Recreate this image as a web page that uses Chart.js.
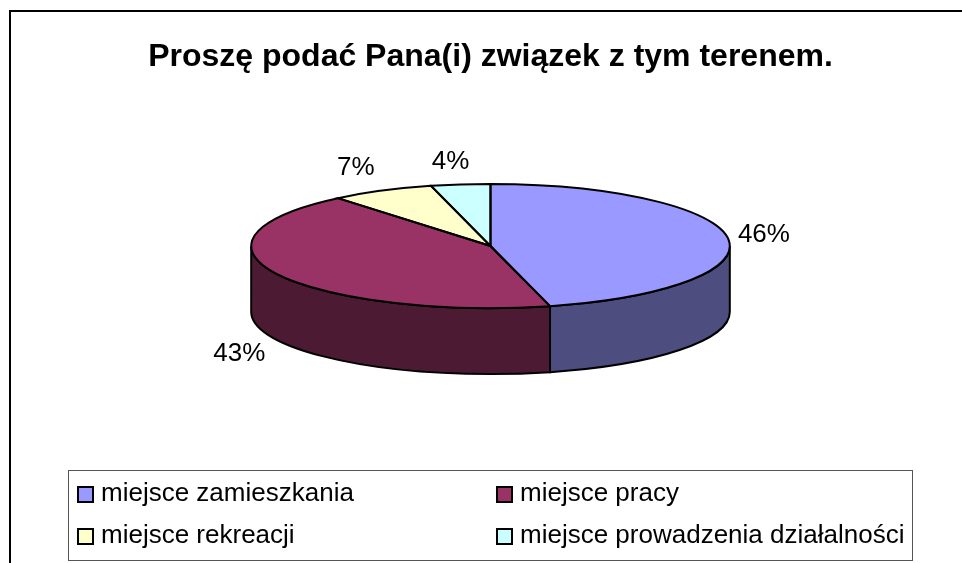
<!DOCTYPE html>
<html>
<head>
<meta charset="utf-8">
<style>
  html, body { margin: 0; padding: 0; background: #fff; overflow: hidden; }
  canvas { display: block; }
</style>
<script src="https://cdn.jsdelivr.net/npm/chart.js@4"></script>
</head>
<body>
<canvas id="pie" width="962" height="563"></canvas>
<script>
const titleText = 'Proszę podać Pana(i) związek z tym terenem.';
const categories = ['miejsce zamieszkania', 'miejsce pracy', 'miejsce rekreacji', 'miejsce prowadzenia działalności'];
const shares = [46, 43, 7, 4];
const topColors = ['#9999ff', '#993366', '#ffffcc', '#ccffff'];
const sideColors = ['#4d4d80', '#4d1a33', '#808066', '#668080'];

// pie is squashed flat and moved up, so it sits under the title like the old Excel 3D pie
const FONT = 'Arial, "Liberation Sans", sans-serif';
const plateY = 246;
const squash = 62 / 239;
const depth = 66;

// where each percent label sits relative to the rim point of its slice
const labelNudge = [[36, -3], [-38, 80], [-26, -23], [-10, -23]];

// legend slots: x of swatch, y of swatch top
const legendSlots = [[78, 487], [497, 487], [78, 529], [497, 529]];

function rimPoint(arc, angle) {
  return { x: arc.x + arc.outerRadius * Math.cos(angle), y: plateY + arc.outerRadius * squash * Math.sin(angle) };
}

const frameAndSides = {
  id: 'frameAndSides',
  beforeDatasetsDraw(chart) {
    const ctx = chart.ctx;
    const arcs = chart.getDatasetMeta(0).data;

    // outer frame, right and bottom are cut off by the picture
    ctx.save();
    ctx.strokeStyle = '#000';
    ctx.lineWidth = 2;
    ctx.beginPath();
    ctx.moveTo(10, 563);
    ctx.lineTo(10, 11);
    ctx.lineTo(962, 11);
    ctx.stroke();

    // side wall, only the part of each slice facing the viewer
    arcs.forEach(function(arc, i) {
      const from = Math.max(arc.startAngle, 0);
      const to = Math.min(arc.endAngle, Math.PI);
      if (to <= from) return;
      const rx = arc.outerRadius;
      const ry = rx * squash;
      ctx.beginPath();
      ctx.ellipse(arc.x, plateY, rx, ry, 0, from, to);
      ctx.ellipse(arc.x, plateY + depth, rx, ry, 0, to, from, true);
      ctx.closePath();
      ctx.fillStyle = sideColors[i];
      ctx.fill();
      ctx.stroke();
    });
    ctx.restore();

    // the library's own arcs get drawn inside this flattening transform
    const cy = arcs[0].y;
    ctx.save();
    ctx.translate(0, plateY);
    ctx.scale(1, squash);
    ctx.translate(0, -cy);
  },
  afterDatasetsDraw(chart) {
    const ctx = chart.ctx;
    const arcs = chart.getDatasetMeta(0).data;
    ctx.restore();

    ctx.save();
    ctx.strokeStyle = '#000';
    ctx.lineWidth = 2;
    arcs.forEach(function(arc) {
      ctx.beginPath();
      ctx.moveTo(arc.x, plateY);
      ctx.ellipse(arc.x, plateY, arc.outerRadius, arc.outerRadius * squash, 0, arc.startAngle, arc.endAngle);
      ctx.closePath();
      ctx.stroke();
    });

    // percent labels
    ctx.fillStyle = '#000';
    ctx.font = '26px ' + FONT;
    ctx.textAlign = 'center';
    ctx.textBaseline = 'middle';
    arcs.forEach(function(arc, i) {
      const p = rimPoint(arc, (arc.startAngle + arc.endAngle) / 2);
      ctx.fillText(shares[i] + '%', p.x + labelNudge[i][0], p.y + labelNudge[i][1]);
    });

    // legend box
    ctx.fillStyle = '#fff';
    ctx.strokeStyle = '#555';
    ctx.lineWidth = 1;
    ctx.fillRect(68.5, 470.5, 844, 90);
    ctx.strokeRect(68.5, 470.5, 844, 90);

    ctx.textAlign = 'left';
    ctx.textBaseline = 'alphabetic';
    ctx.font = '26px ' + FONT;
    categories.forEach(function(name, i) {
      const s = legendSlots[i];
      ctx.fillStyle = topColors[i];
      ctx.fillRect(s[0], s[1], 15, 15);
      ctx.strokeStyle = '#000';
      ctx.lineWidth = 2;
      ctx.strokeRect(s[0], s[1], 15, 15);
      ctx.fillStyle = '#000';
      ctx.fillText(name, s[0] + 23, s[1] + 14);
    });
    ctx.restore();
  }
};

new Chart(document.getElementById('pie'), {
  type: 'pie',
  data: {
    labels: categories,
    datasets: [{ data: shares, backgroundColor: topColors, borderWidth: 0 }]
  },
  options: {
    responsive: false,
    animation: false,
    events: [],
    layout: { padding: { left: 19, right: 0, top: 0, bottom: 8 } },
    plugins: {
      legend: { display: false },
      tooltip: { enabled: false },
      title: {
        display: true,
        text: titleText,
        color: '#000',
        font: { family: FONT, size: 32, weight: 'bold', lineHeight: 1.2 },
        padding: { top: 38, bottom: 0 }
      }
    }
  },
  plugins: [frameAndSides]
});
</script>
</body>
</html>
